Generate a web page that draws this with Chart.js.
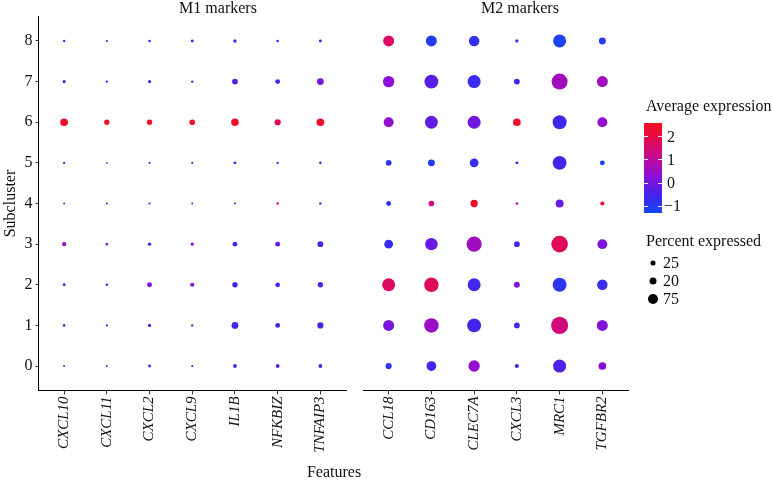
<!DOCTYPE html>
<html><head><meta charset="utf-8">
<script src="https://cdn.jsdelivr.net/npm/chart.js@4/dist/chart.umd.min.js"></script>
<style>
body{margin:0;background:#fff;}
#wrap{position:relative;width:772px;height:483px;font-family:'Liberation Serif','Times New Roman',serif;color:#111;overflow:hidden;}
canvas{position:absolute;left:0;top:0;}
.t{position:absolute;white-space:nowrap;font-size:16px;line-height:16px;}
.c{transform:translateX(-50%);}
.tick{position:absolute;height:1px;width:4px;background:#fff;}
.dot{position:absolute;background:#000;border-radius:50%;transform:translate(-50%,-50%);}
</style></head><body>
<div id="wrap">
<canvas id="c1" width="772" height="483"></canvas>
<canvas id="c2" width="772" height="483"></canvas>
<div class="t c" style="left:218px;top:0px;">M1 markers</div>
<div class="t c" style="left:520px;top:0px;">M2 markers</div>
<div class="t c" style="left:334px;top:464px;">Features</div>
<div class="t" style="left:646px;top:98px;">Average expression</div>
<div id="cbar" style="position:absolute;left:644px;top:123px;width:18px;height:90px;"></div>
<div class="t" style="left:667px;top:129px;">2</div>
<div class="t" style="left:667px;top:152px;">1</div>
<div class="t" style="left:667px;top:175px;">0</div>
<div class="t" style="left:664px;top:198px;">−1</div>
<div class="t" style="left:646px;top:233px;">Percent expressed</div>
<div class="dot" style="left:653px;top:263px;width:5px;height:5px;"></div>
<div class="dot" style="left:653px;top:281px;width:7px;height:7px;"></div>
<div class="dot" style="left:653px;top:299px;width:10px;height:10px;"></div>
<div class="t" style="left:663px;top:255px;">25</div>
<div class="t" style="left:663px;top:273px;">20</div>
<div class="t" style="left:663px;top:291px;">75</div>
</div>
<script>
const subclusters = ['0','1','2','3','4','5','6','7','8'];
const m1Features = ['CXCL10','CXCL11','CXCL2','CXCL9','IL1B','NFKBIZ','TNFAIP3'];
const m2Features = ['CCL18','CD163','CLEC7A','CXCL3','MRC1','TGFBR2'];
const colorTicks = [2, 1, 0, -1];
const sizeLegendLabels = ['25','20','75'];

// rows = subcluster 0..8
const m1AvgExp = [
  [-0.5,-0.5,-0.3,-0.5,-0.4,-0.2,-0.3],
  [-0.5,-0.5,-0.5,-0.5,-0.5,-0.5,-0.5],
  [-0.4,-0.3, 0.2, 0.3,-0.5,-0.5,-0.5],
  [ 0.6, 0.2,-0.4, 0.2,-0.5,-0.2,-0.4],
  [-0.5,-0.4, 0.1,-0.4,-0.6, 1.8,-0.1],
  [-0.6,-0.6,-0.6,-0.6,-0.6,-0.6,-0.6],
  [ 2.4, 2.4, 2.4, 2.4, 2.4, 1.9, 2.4],
  [-0.6,-0.5,-0.6,-0.5,-0.3,-0.4, 0.0],
  [-0.6,-0.6,-0.6,-0.6,-0.6,-0.6,-0.6]
];
const m1Pct = [
  [2,1,6,2,11,11,11],
  [4,2,8,3,27,17,24],
  [6,4,17,13,19,16,19],
  [13,4,9,7,16,17,22],
  [1,1,2,1,2,4,3],
  [3,1,2,2,6,3,4],
  [32,19,19,21,31,24,32],
  [7,3,8,3,22,17,27],
  [3,2,4,6,9,4,6]
];
const m2AvgExp = [
  [-0.9,-0.5, 0.4,-0.5,-0.4, 0.3],
  [ 0.1, 0.5,-0.5,-0.6, 1.4, 0.2],
  [ 1.7, 1.8,-0.6, 0.2,-0.9,-0.7],
  [-0.7,-0.1, 0.6,-0.6, 1.8, 0.1],
  [-0.9, 1.4, 2.4, 1.0,-0.1, 2.2],
  [-0.9,-1.1,-0.8,-0.7,-0.5,-1.1],
  [ 0.4,-0.2, 0.0, 2.4,-0.6, 0.4],
  [ 0.3,-0.3,-0.7,-0.5, 0.6, 0.6],
  [ 1.7,-1.1,-0.8,-0.6,-1.2,-1.0]
];
const m2Pct = [
  [24,43,52,13,61,32],
  [50,69,66,22,83,50],
  [61,69,61,22,66,47],
  [38,58,72,22,80,44],
  [17,21,30,4,33,13],
  [22,28,38,6,66,17],
  [44,60,61,32,66,44],
  [52,66,61,22,77,50],
  [50,50,47,8,61,28]
];

const FONT = "'Liberation Serif','Times New Roman',serif";
const stops = [
  [-1.3,[20,70,245]],
  [-0.5,[70,35,235]],
  [0.3,[140,15,215]],
  [1.2,[200,10,140]],
  [2.0,[230,10,70]],
  [2.6,[245,15,30]]
];
function colorOf(v){
  if (v <= stops[0][0]) return `rgb(${stops[0][1].join(',')})`;
  for (let i=1;i<stops.length;i++){
    if (v <= stops[i][0]){
      const [a,ca]=stops[i-1],[b,cb]=stops[i];
      const t=(v-a)/(b-a);
      const c=ca.map((x,k)=>Math.round(x+(cb[k]-x)*t));
      return `rgb(${c.join(',')})`;
    }
  }
  return `rgb(${stops[stops.length-1][1].join(',')})`;
}
function radiusOf(p){ return 0.9 + 0.092*p; }

// colour bar gradient
(function(){
  const lo=-1.3, hi=2.6;
  const g = stops.map(s=>`rgb(${s[1].join(',')}) ${((s[0]-lo)/(hi-lo)*100).toFixed(1)}%`).join(',');
  const cb=document.getElementById('cbar');
  cb.style.background=`linear-gradient(to top, ${g})`;
  colorTicks.forEach(v=>{
    const y = (hi - v)/(hi-lo)*90;
    ['0px','14px'].forEach(l=>{
      const d=document.createElement('div');d.className='tick';d.style.left=l;d.style.top=(y-0.5)+'px';cb.appendChild(d);
    });
  });
})();

function buildData(feats, exp, pct){
  const pts=[];
  subclusters.forEach((s,yi)=>{
    feats.forEach((f,xi)=>{
      pts.push({x:xi,y:yi,r:radiusOf(pct[yi][xi]),v:exp[yi][xi]});
    });
  });
  return pts;
}

function makeChart(id, feats, exp, pct, padLeft, padRight, showY){
  return new Chart(document.getElementById(id), {
    type:'bubble',
    data:{datasets:[{
      data:buildData(feats,exp,pct),
      backgroundColor:(ctx)=>colorOf(ctx.raw ? ctx.raw.v : 0),
      borderWidth:0,
      hoverRadius:0
    }]},
    options:{
      responsive:false, animation:false, devicePixelRatio:1,
      events:[],
      layout:{padding:{left:padLeft,right:padRight,top:16.6,bottom:22.6}},
      plugins:{legend:{display:false},tooltip:{enabled:false}},
      scales:{
        x:{
          type:'linear', min:-0.6, max:feats.length-0.4,
          afterBuildTicks:(s)=>{s.ticks=feats.map((_,i)=>({value:i}));},
          afterFit:(s)=>{s.height=70;},
          ticks:{autoSkip:false,maxRotation:90,minRotation:90,padding:2,color:'#111',
            font:{family:FONT,size:15,style:'italic'},
            callback:(v)=>feats[v]},
          grid:{drawOnChartArea:false,drawTicks:true,tickLength:4,color:'#333'},
          border:{display:true,color:'#000',width:1}
        },
        y:{
          type:'linear', min:-0.6, max:8.6, display:showY,
          afterBuildTicks:(s)=>{s.ticks=subclusters.map((_,i)=>({value:i}));},
          afterFit:(s)=>{s.width=showY?38.5:0;},
          ticks:{color:'#111',padding:3,font:{family:FONT,size:16},callback:(v)=>subclusters[v]},
          grid:{drawOnChartArea:false,drawTicks:true,tickLength:3,color:'#333'},
          border:{display:true,color:'#000',width:1},
          title:{display:true,text:'Subcluster',color:'#111',font:{family:FONT,size:16},padding:{top:1,bottom:0}}
        }
      }
    }
  });
}
makeChart('c1', m1Features, m1AvgExp, m1Pct, 0, 772-346, true);
makeChart('c2', m2Features, m2AvgExp, m2Pct, 363, 772-628, false);
</script>
</body></html>
